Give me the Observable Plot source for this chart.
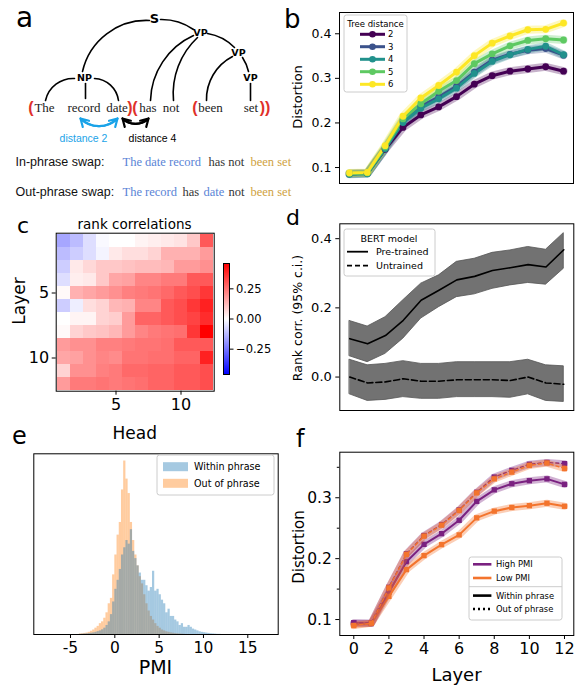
<!DOCTYPE html>
<html><head><meta charset="utf-8">
<script src="https://cdn.jsdelivr.net/npm/d3@7"></script>
<script src="https://cdn.jsdelivr.net/npm/@observablehq/plot@0.6"></script>
<style>
body{margin:0;background:#fff;}
#fig{position:relative;width:579px;height:686px;overflow:hidden;background:#fff;}
</style></head><body><div id="fig"></div>
<script>
// ---------------- DATA ----------------
const layers = [0,1,2,3,4,5,6,7,8,9,10,11,12];

// panel b: distortion by tree distance
const treeDistances = [2,3,4,5,6];
const distortionTD2 = [0.086,0.087,0.141,0.190,0.218,0.236,0.259,0.287,0.306,0.316,0.321,0.326,0.316];
const distortionTD3 = [0.086,0.087,0.143,0.205,0.237,0.258,0.282,0.314,0.341,0.354,0.363,0.367,0.352];
const distortionTD4 = [0.085,0.086,0.142,0.201,0.233,0.254,0.278,0.311,0.338,0.353,0.365,0.372,0.353];
const distortionTD5 = [0.087,0.088,0.146,0.209,0.243,0.271,0.295,0.333,0.355,0.373,0.385,0.389,0.386];
const distortionTD6 = [0.088,0.089,0.149,0.215,0.256,0.284,0.314,0.351,0.379,0.395,0.409,0.410,0.424];

// panel c: rank correlations (rows = layer 1..12, cols = head 1..12)
const heads = [1,2,3,4,5,6,7,8,9,10,11,12];
const bertLayers = [1,2,3,4,5,6,7,8,9,10,11,12];
const rankCorrByLayer = [
  [-0.16,-0.12,-0.06,-0.01,0.00,0.00,0.02,0.03,0.04,0.05,0.10,0.30],
  [-0.12,-0.09,-0.06,-0.02,0.04,0.06,0.06,0.08,0.14,0.14,0.14,0.18],
  [-0.09,0.04,0.07,0.10,0.10,0.11,0.12,0.12,0.13,0.18,0.18,0.20],
  [-0.06,0.03,0.04,0.10,0.16,0.17,0.22,0.22,0.24,0.24,0.30,0.30],
  [0.01,0.14,0.16,0.18,0.20,0.23,0.24,0.25,0.27,0.30,0.32,0.36],
  [-0.09,-0.03,0.06,0.08,0.13,0.14,0.22,0.22,0.30,0.32,0.36,0.40],
  [0.00,0.02,0.02,0.08,0.09,0.18,0.28,0.28,0.30,0.32,0.34,0.38],
  [0.01,0.08,0.10,0.11,0.13,0.18,0.22,0.24,0.25,0.26,0.36,0.46],
  [0.18,0.20,0.20,0.23,0.23,0.24,0.25,0.25,0.26,0.30,0.30,0.30],
  [0.16,0.17,0.20,0.22,0.21,0.25,0.25,0.26,0.26,0.28,0.28,0.40],
  [0.08,0.20,0.20,0.23,0.24,0.27,0.27,0.28,0.28,0.30,0.30,0.32],
  [0.18,0.24,0.24,0.25,0.24,0.25,0.26,0.28,0.28,0.30,0.30,0.32]
];
const colorbarTicks = [-0.25, 0, 0.25];
const colorLimit = 0.46;

// panel d: rank corr. with 95% c.i.
const pretrainedMean = [0.111,0.096,0.120,0.164,0.222,0.251,0.281,0.291,0.308,0.316,0.325,0.318,0.368];
const pretrainedLo   = [0.060,0.043,0.067,0.111,0.169,0.202,0.231,0.239,0.255,0.265,0.272,0.267,0.313];
const pretrainedHi   = [0.162,0.146,0.173,0.222,0.270,0.294,0.333,0.342,0.359,0.366,0.376,0.368,0.416];
const untrainedMean  = [0.000,-0.017,-0.014,-0.005,-0.012,-0.012,-0.008,-0.008,-0.008,-0.010,0.000,-0.017,-0.021];
const untrainedLo    = [-0.050,-0.069,-0.066,-0.058,-0.063,-0.063,-0.058,-0.058,-0.058,-0.060,-0.050,-0.069,-0.072];
const untrainedHi    = [0.050,0.034,0.038,0.046,0.038,0.038,0.043,0.043,0.043,0.043,0.050,0.034,0.031];

// panel e: PMI histograms (bin width 0.25)
const pmiBinWidth = 0.25;
const outPhraseStart = -4;
const outPhraseCounts = [0.3,0.4,0.6,0.8,1.2,1.8,2.5,3.5,4.5,6,7,9,12,17,20,33,44,55,62,80,96,86,78,62,52,44,38,32,28,22,17,13,10,8,6,4.5,3.5,2.5,2,1.5,1.2,0.9,0.7,0.5,0.4,0.3,0.2,0.1];
const withinPhraseStart = -4;
const withinPhraseCounts = [0.1,0.2,0.3,0.4,0.5,0.7,0.9,1.2,1.6,2.0,2.6,3.5,5,7,11,18,25,30,36,44,48,52,50,58,46,42,38,34,30,30,27,24,26,35,24,25,22,19,17,12,14,10,10,8,7,5,6,4,4,5,4,3,2.5,2,1.5,1.2,1,0.8,0.6,0.4,0.3,0.2,0.1,0.1];
const pmiTicks = [-5,0,5,10,15];

// panel f: distortion by PMI
const highPmiWithin = [0.0945,0.0934,0.145,0.195,0.2235,0.241,0.263,0.294,0.313,0.323,0.328,0.331,0.322];
const lowPmiWithin  = [0.092,0.094,0.138,0.182,0.205,0.223,0.239,0.267,0.278,0.284,0.287,0.291,0.286];
const highPmiOut    = [0.0945,0.0945,0.153,0.208,0.238,0.256,0.280,0.309,0.334,0.345,0.355,0.358,0.356];
const lowPmiOut     = [0.090,0.094,0.152,0.207,0.237,0.255,0.279,0.308,0.331,0.342,0.353,0.357,0.348];

// panel a: parse-tree diagram (diagram coordinates)
const treeNodes = [
  {label:"S", x:154, y:18, big:true},
  {label:"VP", x:200, y:32}, {label:"VP", x:238, y:52},
  {label:"NP", x:84, y:77}, {label:"VP", x:250, y:77}
];
const treeEdges = [
  {x1:149,y1:20,x2:82,y2:71,bend:-40},
  {x1:160,y1:19,x2:193,y2:29,bend:18},
  {x1:74,y1:78,x2:45,y2:100,bend:-40},
  {x1:94,y1:78,x2:118,y2:100,bend:40},
  {x1:85,y1:83,x2:85,y2:98,bend:0},
  {x1:193,y1:35,x2:150,y2:100,bend:-32},
  {x1:197,y1:37,x2:173,y2:100,bend:-26},
  {x1:207,y1:33,x2:234,y2:47,bend:18},
  {x1:232,y1:56,x2:206,y2:100,bend:-32},
  {x1:242,y1:57,x2:248,y2:71,bend:10},
  {x1:250,y1:83,x2:250,y2:100,bend:0}
];
const sentenceWords = [
  {text:"The",x:44},{text:"record",x:83.5},{text:"date",x:116.5},{text:"has",x:147.5},
  {text:"not",x:170.5},{text:"been",x:210},{text:"set",x:250.5}
];
const phraseBrackets = [{text:"(",x:30.5},{text:")",x:129.5},{text:"(",x:134.5},{text:"(",x:194.5},{text:"))",x:264.5}];
const swapArrows = [
  {x1:80,y1:118,x2:117,y2:118,label:"distance 2",lx:83,ly:138,kind:"in"},
  {x1:122,y1:118,x2:148,y2:118,label:"distance 4",lx:152,ly:138,kind:"out"}
];
const swapRows = [{text:"In-phrase swap:", y:161},{text:"Out-phrase swap:", y:191}];
const swapSegments = [
  {text:"The date record",x:122,y:161,role:"np"},{text:"has not",x:208,y:161,role:"other"},{text:"been set",x:250,y:161,role:"vp"},
  {text:"The record",x:122,y:191,role:"np"},{text:"has",x:182,y:191,role:"other"},{text:"date",x:203,y:191,role:"np"},
  {text:"not",x:228,y:191,role:"other"},{text:"been set",x:250,y:191,role:"vp"}
];

// ---------------- STYLE ----------------
const viridis5 = ["#440154","#3b528b","#21918c","#5ec962","#fde725"];
const roleColors = {np:"#5a84d6", other:"#333333", vp:"#cfa23e"};
const arrowColors = {in:"#1aa3e8", out:"#000000"};
const purple = "#7a2180", orange = "#f3742d";
const histBlue = "#1f77b4", histOrange = "#ff7f0e";

const fig = document.getElementById("fig");
function addPlot(p, left, top){ p.style.position="absolute"; p.style.left=left+"px"; p.style.top=top+"px"; fig.appendChild(p); }
function st(fs){ return {background:"transparent", color:"black", fontFamily:"DejaVu Sans", fontSize:fs+"px", overflow:"visible"}; }

// ---------------- PANEL A ----------------
{
  const bends = [...new Set(treeEdges.map(d=>d.bend))];
  const p = Plot.plot({
    width:290, height:210, margin:0,
    x:{domain:[0,290], axis:null}, y:{domain:[0,210], reverse:true, axis:null},
    style: st(12),
    marks:[
      ...bends.map(b => Plot.arrow(treeEdges.filter(d=>d.bend===b), {x1:"x1",y1:"y1",x2:"x2",y2:"y2",bend:b,headLength:0,stroke:"black",strokeWidth:1.6})),
      Plot.text(treeNodes.filter(d=>d.big), {x:"x",y:"y",text:"label",fontWeight:"bold",fontSize:13,fontFamily:"DejaVu Sans"}),
      Plot.text(treeNodes.filter(d=>!d.big), {x:"x",y:"y",text:"label",fontWeight:"bold",fontSize:9.5,fontFamily:"DejaVu Sans"}),
      Plot.text(sentenceWords, {x:"x",y:()=>107,text:"text",fontSize:13,fontFamily:"Liberation Serif",fill:"#222"}),
      Plot.text(phraseBrackets, {x:"x",y:()=>107,text:"text",fontSize:16,fontWeight:"bold",fontFamily:"Liberation Sans",fill:"#e0302a"}),
      Plot.arrow(swapArrows, {x1:"x1",y1:"y1",x2:"x2",y2:"y2",bend:-45,stroke:d=>arrowColors[d.kind],strokeWidth:2.2,headLength:6}),
      Plot.arrow(swapArrows, {x1:"x2",y1:"y2",x2:"x1",y2:"y1",bend:45,stroke:d=>arrowColors[d.kind],strokeWidth:2.2,headLength:6}),
      Plot.text(swapArrows, {x:"lx",y:"ly",text:"label",fill:d=>arrowColors[d.kind],fontSize:10.5,fontFamily:"Liberation Sans"}),
      Plot.text(swapRows, {x:()=>15,y:"y",text:"text",textAnchor:"start",fontSize:12.5,fontFamily:"Liberation Sans",fill:"#111"}),
      Plot.text(swapSegments, {x:"x",y:"y",text:"text",textAnchor:"start",fontSize:12.5,fontFamily:"Liberation Serif",fill:d=>roleColors[d.role]})
    ]
  });
  addPlot(p,0,0);
}

// ---------------- PANEL B ----------------
{
  const series = [distortionTD2,distortionTD3,distortionTD4,distortionTD5,distortionTD6];
  const data = treeDistances.flatMap((td,i)=>series[i].map((v,j)=>({layer:layers[j], value:v, td})));
  const p = Plot.plot({
    width:289, height:200, marginLeft:49, marginRight:6, marginTop:12, marginBottom:17,
    style: st(12.5),
    x:{domain:[-0.56,12.56], axis:null},
    y:{domain:[0.0642,0.4477]},
    color:{type:"ordinal", domain:treeDistances, range:viridis5},
    marks:[
      Plot.lineY(data,{x:"layer",y:"value",z:"td",stroke:"td",strokeWidth:8,strokeOpacity:0.3}),
      Plot.lineY(data,{x:"layer",y:"value",z:"td",stroke:"td",strokeWidth:3}),
      Plot.dot(data,{x:"layer",y:"value",fill:"td",r:3.4}),
      Plot.frame({stroke:"black"}),
      Plot.axisY({ticks:[0.1,0.2,0.3,0.4], tickFormat:".1f", tickSize:4, tickPadding:4, label:null, fontSize:12.5})
    ]
  });
  addPlot(p,290,0);
}

// ---------------- PANEL C ----------------
{
  const cells = bertLayers.flatMap((L,i)=>heads.map((h,j)=>({layer:L, head:h, v:rankCorrByLayer[i][j]})));
  const colorOpts = {type:"linear", domain:[-colorLimit,0,colorLimit], range:["#0000ff","#ffffff","#ff0000"], interpolate:"rgb", clamp:true};
  const p = Plot.plot({
    width:290, height:240, marginLeft:55.7, marginRight:76.3, marginTop:32.7, marginBottom:49.3,
    style: st(16),
    x:{type:"band", domain:heads, padding:0},
    y:{type:"band", domain:bertLayers, padding:0},
    color: colorOpts,
    marks:[
      Plot.cell(cells,{x:"head",y:"layer",fill:"v"}),
      Plot.frame({stroke:"black"}),
      Plot.axisX({ticks:[5,10], tickSize:4, tickPadding:3, label:null, fontSize:16}),
      Plot.axisY({ticks:[5,10], tickSize:4, tickPadding:3, label:null, fontSize:16})
    ]
  });
  addPlot(p,0,200);
  const cb = Plot.plot({
    width:60, height:111, marginLeft:0, marginRight:54, marginTop:0, marginBottom:0,
    style: st(11.5),
    x:{domain:[0,1], axis:null},
    y:{domain:[-colorLimit,colorLimit]},
    color: colorOpts,
    marks:[
      Plot.raster({x1:0,x2:1,y1:-colorLimit,y2:colorLimit,width:1,height:200,fill:(x,y)=>y}),
      Plot.frame({stroke:"black"}),
      Plot.axisY({anchor:"right", ticks:colorbarTicks, tickFormat:".2f", tickSize:3.5, tickPadding:3, label:null, fontSize:11.5})
    ]
  });
  addPlot(cb,223.3,263.3);
}

// ---------------- PANEL D ----------------
{
  const pre = layers.map((l,i)=>({layer:l, mean:pretrainedMean[i], lo:pretrainedLo[i], hi:pretrainedHi[i]}));
  const unt = layers.map((l,i)=>({layer:l, mean:untrainedMean[i], lo:untrainedLo[i], hi:untrainedHi[i]}));
  const p = Plot.plot({
    width:289, height:240, marginLeft:49.3, marginRight:5.7, marginTop:23.3, marginBottom:30,
    style: st(13),
    x:{domain:[-0.56,12.56], axis:null},
    y:{domain:[-0.0967,0.443]},
    marks:[
      Plot.areaY(pre,{x:"layer",y1:"lo",y2:"hi",fill:"#727272",stroke:"#555",strokeWidth:0.8}),
      Plot.areaY(unt,{x:"layer",y1:"lo",y2:"hi",fill:"#727272",stroke:"#555",strokeWidth:0.8}),
      Plot.lineY(pre,{x:"layer",y:"mean",stroke:"black",strokeWidth:1.6}),
      Plot.lineY(unt,{x:"layer",y:"mean",stroke:"black",strokeWidth:1.6,strokeDasharray:"6,3"}),
      Plot.frame({stroke:"black"}),
      Plot.axisY({ticks:[0,0.2,0.4], tickFormat:".1f", tickSize:4, tickPadding:4, label:null, fontSize:13})
    ]
  });
  addPlot(p,290,200);
}

// ---------------- PANEL E ----------------
{
  const outBins = outPhraseCounts.map((h,i)=>({x0:outPhraseStart+i*pmiBinWidth, x1:outPhraseStart+(i+1)*pmiBinWidth, h, b:0}));
  const inBins = withinPhraseCounts.map((h,i)=>({x0:withinPhraseStart+i*pmiBinWidth, x1:withinPhraseStart+(i+1)*pmiBinWidth, h, b:0}));
  const p = Plot.plot({
    width:290, height:246, marginLeft:33.3, marginRight:12.3, marginTop:13.3, marginBottom:52,
    style: st(15.5),
    x:{domain:[-9.14,18.43]},
    y:{domain:[0,100], axis:null},
    marks:[
      Plot.rect(outBins,{x1:"x0",x2:"x1",y1:"b",y2:"h",fill:histOrange,fillOpacity:0.4}),
      Plot.rect(inBins,{x1:"x0",x2:"x1",y1:"b",y2:"h",fill:histBlue,fillOpacity:0.4}),
      Plot.frame({stroke:"black"}),
      Plot.axisX({ticks:pmiTicks, tickFormat:d=>String(d), tickSize:4, tickPadding:3, label:null, fontSize:15.5})
    ]
  });
  addPlot(p,0,440);
}

// ---------------- PANEL F ----------------
{
  const mk = (arr, pmi, phrase) => arr.map((v,i)=>({layer:layers[i], v, pmi, phrase}));
  const hw = mk(highPmiWithin,"High PMI","Within"), lw = mk(lowPmiWithin,"Low PMI","Within");
  const ho = mk(highPmiOut,"High PMI","Out"), lo = mk(lowPmiOut,"Low PMI","Out");
  const seriesMarks = (d, col, dashed) => [
    Plot.lineY(d,{x:"layer",y:"v",stroke:col,strokeWidth:7,strokeOpacity:0.35}),
    Plot.lineY(d,{x:"layer",y:"v",stroke:col,strokeWidth:dashed?1.4:2,strokeDasharray:dashed?"3,3":null}),
    Plot.dot(d,{x:"layer",y:"v",fill:col,symbol:"square",r:3})
  ];
  const p = Plot.plot({
    width:289, height:246, marginLeft:49.3, marginRight:5.7, marginTop:11.7, marginBottom:51,
    style: st(15.5),
    x:{domain:[-0.797,12.53]},
    y:{domain:[0.0738,0.3748]},
    marks:[
      ...seriesMarks(hw,purple,false), ...seriesMarks(lw,orange,false),
      ...seriesMarks(ho,purple,true), ...seriesMarks(lo,orange,true),
      Plot.frame({stroke:"black"}),
      Plot.axisX({ticks:[0,2,4,6,8,10,12], tickSize:4, tickPadding:3, label:null, fontSize:16}),
      Plot.axisY({ticks:[0.1,0.2,0.3], tickFormat:".1f", tickSize:4, tickPadding:4, label:null, fontSize:15.5}),
      Plot.axisY({ticks:[0.15,0.25,0.35], tickFormat:()=>"", tickSize:2.5, label:null})
    ]
  });
  addPlot(p,290,440);
}

// ---------------- OVERLAY: panel letters, axis titles, legends ----------------
const ov = d3.select(fig).append("svg").attr("width",579).attr("height",686)
  .style("position","absolute").style("left","0px").style("top","0px").style("font-family","DejaVu Sans");
const letters = [{t:"a",x:16,y:27,s:28},{t:"b",x:284,y:28,s:26},{t:"c",x:17,y:233,s:22},{t:"d",x:286,y:225,s:22},{t:"e",x:12,y:444,s:24},{t:"f",x:296,y:447,s:24}];
ov.selectAll("text.letter").data(letters).join("text").attr("x",d=>d.x).attr("y",d=>d.y).attr("font-size",d=>d.s).text(d=>d.t);
function ylab(t,x,y,s){ ov.append("text").attr("transform",`translate(${x},${y}) rotate(-90)`).attr("text-anchor","middle").attr("dominant-baseline","central").attr("font-size",s).text(t); }
function xlab(t,x,y,s){ ov.append("text").attr("x",x).attr("y",y).attr("text-anchor","middle").attr("dominant-baseline","central").attr("font-size",s).text(t); }
ylab("Distortion",297,97,13);
xlab("rank correlations",134.5,223.5,13.5);
ylab("Layer",19,301,17);
xlab("Head",134.7,433,17);
ylab("Rank corr. (95% c.i.)",297,318,12.5);
xlab("PMI",155.5,667,19);
ylab("Distortion",299,547,15);
xlab("Layer",456.5,674,18);

function box(x,y,w,h){ const g=ov.append("g").attr("transform",`translate(${x},${y})`); g.append("rect").attr("width",w).attr("height",h).attr("rx",2.5).attr("fill","white").attr("fill-opacity",0.85).attr("stroke","#cccccc"); return g; }
// legend b
{
  const g = box(344,15,63,77);
  g.append("text").attr("x",31.5).attr("y",9).attr("text-anchor","middle").attr("dominant-baseline","central").attr("font-size",8.5).text("Tree distance");
  treeDistances.forEach((td,i)=>{
    const y = [19.3,31.7,44.3,56.7,69.3][i];
    g.append("line").attr("x1",16).attr("x2",41).attr("y1",y).attr("y2",y).attr("stroke",viridis5[i]).attr("stroke-width",3);
    g.append("circle").attr("cx",28.5).attr("cy",y).attr("r",3.3).attr("fill",viridis5[i]);
    g.append("text").attr("x",44).attr("y",y).attr("dominant-baseline","central").attr("font-size",8.5).text(td);
  });
}
// legend d
{
  const g = box(344,229,91,47);
  g.append("text").attr("x",45).attr("y",9).attr("text-anchor","middle").attr("dominant-baseline","central").attr("font-size",9.5).text("BERT model");
  [["Pre-trained",null,22.7],["Untrained","5,3",36.7]].forEach(([t,da,y])=>{
    g.append("line").attr("x1",3).attr("x2",24).attr("y1",y).attr("y2",y).attr("stroke","black").attr("stroke-width",1.8).attr("stroke-dasharray",da);
    g.append("text").attr("x",32).attr("y",y).attr("dominant-baseline","central").attr("font-size",9.5).text(t);
  });
}
// legend e
{
  const g = box(157,455,117,40);
  [["Within phrase",histBlue,11.7],["Out of phrase",histOrange,28.3]].forEach(([t,c,y])=>{
    g.append("rect").attr("x",6).attr("y",y-4.5).attr("width",25).attr("height",9).attr("fill",c).attr("fill-opacity",0.4);
    g.append("text").attr("x",37).attr("y",y).attr("dominant-baseline","central").attr("font-size",9.6).text(t);
  });
}
// legend f
{
  const g = box(469,557,93,63);
  [["High PMI",purple,null,7.3],["Low PMI",orange,null,21],["Within phrase","black",null,38.6],["Out of phrase","black","2,3",52]].forEach(([t,c,da,y])=>{
    g.append("line").attr("x1",4).attr("x2",22.4).attr("y1",y).attr("y2",y).attr("stroke",c).attr("stroke-width",2.6).attr("stroke-dasharray",da);
    g.append("text").attr("x",27).attr("y",y).attr("dominant-baseline","central").attr("font-size",8.4).text(t);
  });
  g.append("line").attr("x1",0).attr("x2",93).attr("y1",29.7).attr("y2",29.7).attr("stroke","#cccccc");
}
</script></body></html>
